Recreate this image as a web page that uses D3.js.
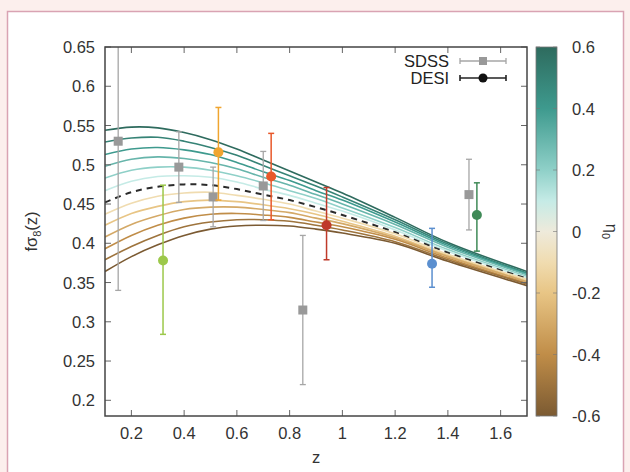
<!DOCTYPE html>
<html>
<head>
<meta charset="utf-8">
<script src="https://cdn.jsdelivr.net/npm/d3@7"></script>
<style>
  html, body { margin: 0; padding: 0; background: #fcefed; }
  svg { display: block; font-family: "Liberation Sans", Arial, sans-serif; }
</style>
</head>
<body>
<svg id="drawing_region"></svg>
<script>
const zGrid = [0.1, 0.2, 0.3, 0.4, 0.5, 0.6, 0.7, 0.8, 0.9, 1.0, 1.2, 1.4, 1.7];
const eta0List = [0.6, 0.5, 0.4, 0.3, 0.2, 0.1, 0, -0.1, -0.2, -0.3, -0.4, -0.5, -0.6];
const fs8Curves = [
    [0.544, 0.548, 0.547, 0.541, 0.532, 0.520, 0.506, 0.492, 0.478, 0.464, 0.433, 0.401, 0.364],
    [0.529, 0.534, 0.535, 0.530, 0.522, 0.512, 0.499, 0.486, 0.473, 0.459, 0.430, 0.399, 0.362],
    [0.513, 0.520, 0.522, 0.519, 0.513, 0.503, 0.491, 0.480, 0.467, 0.455, 0.427, 0.397, 0.361],
    [0.498, 0.507, 0.510, 0.508, 0.503, 0.495, 0.484, 0.474, 0.462, 0.450, 0.424, 0.395, 0.360],
    [0.483, 0.493, 0.497, 0.497, 0.493, 0.486, 0.477, 0.467, 0.457, 0.445, 0.420, 0.392, 0.358],
    [0.467, 0.479, 0.485, 0.486, 0.484, 0.478, 0.469, 0.461, 0.451, 0.441, 0.417, 0.390, 0.356],
    [0.452, 0.465, 0.472, 0.475, 0.474, 0.469, 0.462, 0.455, 0.446, 0.436, 0.414, 0.388, 0.355],
    [0.437, 0.451, 0.460, 0.464, 0.465, 0.461, 0.456, 0.450, 0.441, 0.432, 0.412, 0.386, 0.354],
    [0.423, 0.438, 0.447, 0.453, 0.455, 0.453, 0.449, 0.444, 0.437, 0.428, 0.409, 0.384, 0.352],
    [0.408, 0.424, 0.435, 0.443, 0.446, 0.446, 0.443, 0.439, 0.432, 0.425, 0.407, 0.383, 0.351],
    [0.393, 0.410, 0.423, 0.432, 0.437, 0.438, 0.436, 0.433, 0.427, 0.421, 0.405, 0.381, 0.349],
    [0.379, 0.396, 0.410, 0.421, 0.427, 0.430, 0.430, 0.428, 0.423, 0.417, 0.402, 0.379, 0.348],
    [0.364, 0.383, 0.398, 0.410, 0.418, 0.422, 0.423, 0.422, 0.418, 0.413, 0.400, 0.377, 0.346]
];

// SDSS measurements
const sdssZ   = [0.15, 0.38, 0.51, 0.70, 0.85, 1.48];
const sdssFs8 = [0.530, 0.497, 0.459, 0.473, 0.315, 0.462];
const sdssErr = [0.190, 0.045, 0.038, 0.044, 0.095, 0.045];

// DESI measurements
const desiZ      = [0.32, 0.53, 0.73, 0.94, 1.34, 1.51];
const desiFs8    = [0.378, 0.516, 0.485, 0.423, 0.374, 0.436];
const desiLo     = [0.284, 0.455, 0.430, 0.379, 0.344, 0.390];
const desiHi     = [0.474, 0.573, 0.540, 0.471, 0.419, 0.477];
const desiColors = ['#9cc84a', '#f0a530', '#e8582a', '#bf3a2a', '#5b8fcf', '#3f8a57'];

// colour bar
const cbStops  = [-0.6, -0.4, -0.2, -0.1, 0, 0.1, 0.2, 0.4, 0.6];
const cbColors = ['#7b5a32', '#c08d48', '#e8c585', '#f0dcb0', '#eeeadb', '#c5ebe6', '#8fd0c8', '#3e9a8e', '#2e6b5e'];

const xTicks  = [0.2, 0.4, 0.6, 0.8, 1, 1.2, 1.4, 1.6];
const yTicks  = [0.2, 0.25, 0.3, 0.35, 0.4, 0.45, 0.5, 0.55, 0.6, 0.65];
const cbTicks = [-0.6, -0.4, -0.2, 0, 0.2, 0.4, 0.6];

class GrowthPlot {

    constructor( config ) {
        this.config = config;
        this.init();
    }

    init() {
        let self = this;
        const c = self.config;

        self.svg = d3.select( c.parent )
            .attr('width', c.width)
            .attr('height', c.height);

        // pink page, white panel
        self.svg.append('rect')
            .attr('x', 7.5).attr('y', 11.5)
            .attr('width', 616).attr('height', c.height)
            .attr('fill', '#ffffff')
            .attr('stroke', '#d9a3b3')
            .attr('stroke-width', 1.5);

        self.xscale = d3.scaleLinear()
            .domain([0.1, 1.7])
            .range([c.plot.left, c.plot.right]);

        self.yscale = d3.scaleLinear()
            .domain([0.18, 0.65])
            .range([c.plot.bottom, c.plot.top]);

        self.cscale = d3.scaleLinear()
            .domain(cbStops)
            .range(cbColors);

        self.cbscale = d3.scaleLinear()
            .domain([-0.6, 0.6])
            .range([c.bar.bottom, c.bar.top]);

        self.svg.append('clipPath').attr('id', 'clip')
            .append('rect')
            .attr('x', c.plot.left).attr('y', c.plot.top)
            .attr('width', c.plot.right - c.plot.left)
            .attr('height', c.plot.bottom - c.plot.top);

        self.chart = self.svg.append('g').attr('clip-path', 'url(#clip)');
    }

    render() {
        let self = this;

        const line = d3.line()
            .x( (d, i) => self.xscale( zGrid[i] ) )
            .y( d => self.yscale( d ) )
            .curve( d3.curveCatmullRom.alpha(0.5) );

        // model curves, coloured by eta0 (dashed for eta0 = 0)
        self.chart.selectAll('.model')
            .data(fs8Curves)
            .enter()
            .append('path')
            .attr('class', 'model')
            .attr('d', line)
            .attr('fill', 'none')
            .attr('stroke', (d, i) => eta0List[i] === 0 ? '#2b2b2b' : self.cscale( eta0List[i] ))
            .attr('stroke-width', (d, i) => eta0List[i] === 0 ? 2 : 1.6)
            .attr('stroke-dasharray', (d, i) => eta0List[i] === 0 ? '6,5' : null);

        // SDSS points
        const sdss = sdssZ.map( (z, i) => ({ z: z, v: sdssFs8[i], lo: sdssFs8[i] - sdssErr[i], hi: sdssFs8[i] + sdssErr[i] }) );
        self.errorBars( sdss, d => '#a6a6a6', 1.3 );
        self.chart.selectAll('.sdss')
            .data(sdss)
            .enter()
            .append('rect')
            .attr('class', 'sdss')
            .attr('x', d => self.xscale( d.z ) - 4.5)
            .attr('y', d => self.yscale( d.v ) - 4.5)
            .attr('width', 9).attr('height', 9)
            .attr('fill', '#999999');

        // DESI points
        const desi = desiZ.map( (z, i) => ({ z: z, v: desiFs8[i], lo: desiLo[i], hi: desiHi[i], col: desiColors[i] }) );
        self.errorBars( desi, d => d.col, 1.5 );
        self.chart.selectAll('.desi')
            .data(desi)
            .enter()
            .append('circle')
            .attr('class', 'desi')
            .attr('cx', d => self.xscale( d.z ))
            .attr('cy', d => self.yscale( d.v ))
            .attr('r', 5)
            .attr('fill', d => d.col);

        self.drawAxes();
        self.drawLegend();
        self.drawColorBar();
    }

    errorBars( data, colour, width ) {
        let self = this;
        const g = self.chart.append('g');
        data.forEach( d => {
            const x = self.xscale( d.z );
            g.append('line')
                .attr('x1', x).attr('x2', x)
                .attr('y1', self.yscale( d.lo )).attr('y2', self.yscale( d.hi ))
                .attr('stroke', colour(d)).attr('stroke-width', width);
            [d.lo, d.hi].forEach( v => {
                g.append('line')
                    .attr('x1', x - 3).attr('x2', x + 3)
                    .attr('y1', self.yscale( v )).attr('y2', self.yscale( v ))
                    .attr('stroke', colour(d)).attr('stroke-width', width);
            });
        });
    }

    drawAxes() {
        let self = this;
        const p = self.config.plot;
        const axisColor = '#444444';

        const frame = self.svg.append('g');
        // inward ticks on all four sides
        xTicks.forEach( t => {
            const x = self.xscale( t );
            frame.append('line').attr('x1', x).attr('x2', x).attr('y1', p.bottom).attr('y2', p.bottom - 6);
            frame.append('line').attr('x1', x).attr('x2', x).attr('y1', p.top).attr('y2', p.top + 6);
        });
        yTicks.forEach( t => {
            const y = self.yscale( t );
            frame.append('line').attr('x1', p.left).attr('x2', p.left + 6).attr('y1', y).attr('y2', y);
            frame.append('line').attr('x1', p.right).attr('x2', p.right - 6).attr('y1', y).attr('y2', y);
        });
        frame.selectAll('line').attr('stroke', '#666666').attr('stroke-width', 1);

        frame.append('rect')
            .attr('x', p.left).attr('y', p.top)
            .attr('width', p.right - p.left).attr('height', p.bottom - p.top)
            .attr('fill', 'none')
            .attr('stroke', axisColor)
            .attr('stroke-width', 1.5);

        self.svg.append('g')
            .selectAll('text')
            .data(xTicks)
            .enter()
            .append('text')
            .attr('x', d => self.xscale( d ))
            .attr('y', p.bottom + 23)
            .attr('text-anchor', 'middle')
            .style('font-size', '16.5px')
            .attr('fill', '#333333')
            .text( d => String(d) );

        self.svg.append('g')
            .selectAll('text')
            .data(yTicks)
            .enter()
            .append('text')
            .attr('x', p.left - 10)
            .attr('y', d => self.yscale( d ) + 6)
            .attr('text-anchor', 'end')
            .style('font-size', '16.5px')
            .attr('fill', '#333333')
            .text( d => String(d) );

        self.svg.append('text')
            .attr('x', (p.left + p.right) / 2)
            .attr('y', p.bottom + 47)
            .attr('text-anchor', 'middle')
            .style('font-size', '16.5px')
            .attr('fill', '#333333')
            .text('z');

        const ylab = self.svg.append('text')
            .attr('transform', `translate(37, ${(p.top + p.bottom) / 2}) rotate(-90)`)
            .attr('text-anchor', 'middle')
            .style('font-size', '16.5px')
            .attr('fill', '#333333');
        ylab.append('tspan').text('fσ');
        ylab.append('tspan').attr('dy', 4).style('font-size', '11px').text('8');
        ylab.append('tspan').attr('dy', -4).text('(z)');
    }

    drawLegend() {
        let self = this;
        const lg = self.config.legend;
        const g = self.svg.append('g');
        const rows = [
            { label: 'SDSS', colour: '#a6a6a6', mark: 'square', w: 1.3 },
            { label: 'DESI', colour: '#222222', mark: 'circle', w: 1.6 }
        ];
        rows.forEach( (r, i) => {
            const y = lg.y + i * 17;
            g.append('text')
                .attr('x', lg.x).attr('y', y + 6)
                .attr('text-anchor', 'end')
                .style('font-size', '16.5px')
                .attr('fill', '#222222')
                .text(r.label);
            g.append('line')
                .attr('x1', lg.x + 11).attr('x2', lg.x + 57)
                .attr('y1', y).attr('y2', y)
                .attr('stroke', r.colour).attr('stroke-width', r.w);
            [lg.x + 11, lg.x + 57].forEach( x => {
                g.append('line')
                    .attr('x1', x).attr('x2', x)
                    .attr('y1', y - 3).attr('y2', y + 3)
                    .attr('stroke', r.colour).attr('stroke-width', r.w);
            });
            if (r.mark === 'square') {
                g.append('rect')
                    .attr('x', lg.x + 34 - 4).attr('y', y - 4)
                    .attr('width', 8).attr('height', 8)
                    .attr('fill', '#999999');
            } else {
                g.append('circle')
                    .attr('cx', lg.x + 34).attr('cy', y)
                    .attr('r', 4.5)
                    .attr('fill', '#111111');
            }
        });
    }

    drawColorBar() {
        let self = this;
        const b = self.config.bar;

        const grad = self.svg.append('defs')
            .append('linearGradient')
            .attr('id', 'cbgrad')
            .attr('x1', 0).attr('y1', 1).attr('x2', 0).attr('y2', 0);
        grad.selectAll('stop')
            .data(cbStops)
            .enter()
            .append('stop')
            .attr('offset', d => (d + 0.6) / 1.2)
            .attr('stop-color', d => self.cscale( d ));

        self.svg.append('rect')
            .attr('x', b.left).attr('y', b.top)
            .attr('width', b.right - b.left).attr('height', b.bottom - b.top)
            .attr('fill', 'url(#cbgrad)')
            .attr('stroke', '#777777')
            .attr('stroke-width', 0.8);

        const g = self.svg.append('g');
        cbTicks.forEach( t => {
            const y = self.cbscale( t );
            g.append('line').attr('x1', b.left).attr('x2', b.left + 4).attr('y1', y).attr('y2', y);
            g.append('line').attr('x1', b.right).attr('x2', b.right - 4).attr('y1', y).attr('y2', y);
        });
        g.selectAll('line').attr('stroke', '#777777').attr('stroke-width', 1).attr('opacity', 0.6);

        self.svg.append('g')
            .selectAll('text')
            .data(cbTicks)
            .enter()
            .append('text')
            .attr('x', b.right + 15)
            .attr('y', d => self.cbscale( d ) + 6)
            .style('font-size', '16.5px')
            .attr('fill', '#333333')
            .text( d => String(d) );

        const lab = self.svg.append('text')
            .attr('transform', `translate(606, ${(b.top + b.bottom) / 2}) rotate(90)`)
            .attr('text-anchor', 'middle')
            .style('font-size', '16.5px')
            .attr('fill', '#333333');
        lab.append('tspan').text('η');
        lab.append('tspan').attr('dy', 4).style('font-size', '11px').text('0');
    }
}

const config = {
    parent: '#drawing_region',
    width: 630,
    height: 472,
    plot: { left: 105, right: 527, top: 47, bottom: 416 },
    bar: { left: 536, right: 557, top: 47, bottom: 416 },
    legend: { x: 449, y: 61 }
};

const growth_plot = new GrowthPlot( config );
growth_plot.render();
</script>
</body>
</html>
